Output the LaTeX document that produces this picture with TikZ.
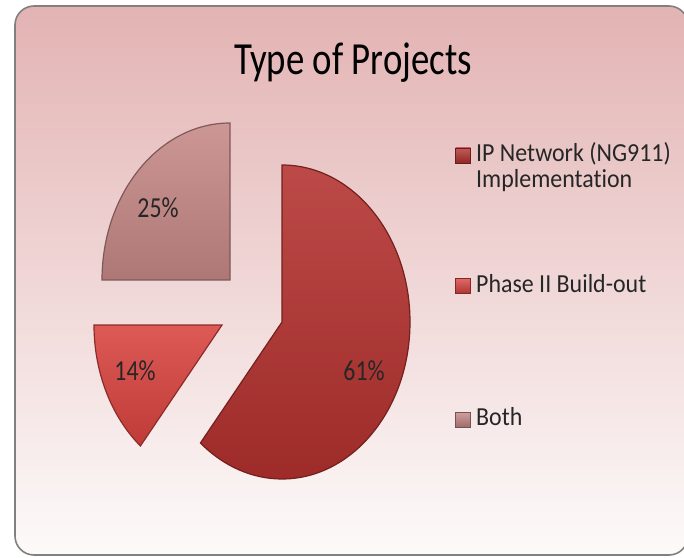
\documentclass[tikz,border=0pt]{standalone}
\usepackage{fontspec}
\setmainfont{Carlito}[Ligatures=NoCommon]
\definecolor{bgtop}{HTML}{E3B3B3}
\definecolor{bgmid}{HTML}{F1D8D8}
\definecolor{bgbot}{HTML}{FDFAFA}
\definecolor{ipred}{HTML}{B3312E}
\definecolor{phred}{HTML}{D8433F}
\definecolor{bothpink}{HTML}{C58886}
\tikzset{
    slice/.style={draw=#1!65!black, line width=1.2, top color=#1!88!white, bottom color=#1!88!black},
    pct/.style={font=\fontsize{29}{32}\selectfont, xscale=0.82, text=black!85},
    ttl/.style={font=\fontsize{46}{50}\selectfont, xscale=0.8, anchor=base, inner sep=0pt},
    leg/.style={font=\fontsize{26}{26}\selectfont, xscale=0.92, anchor=base west, align=left, inner sep=0pt, text=black!85},
    swatch/.style={minimum size=15, inner sep=0pt, draw=#1!60!black, top color=#1!80!white, bottom color=#1!80!black}
}

\begin{document}
\begin{tikzpicture}[x=1pt, y=1pt]
    \useasboundingbox (0,0) rectangle (684,557);
    \shade[rounded corners=19pt, top color=bgtop, middle color=bgmid, bottom color=bgbot] (15,2) rectangle (688,551);
    \draw[rounded corners=19pt, line width=1.6, gray] (15,2) rectangle (688,551);

    \node[ttl] (title) at (353,482) {Type of Projects};

    % exploded slices
    \draw[slice=ipred] (282,235) -- ++(0,157) arc[start angle=90, end angle=-129.6, x radius=128, y radius=157] -- cycle;
    \draw[slice=phred] (222,232) -- ++(-128,0) arc[start angle=180, end angle=230.4, x radius=128, y radius=157] -- cycle;
    \draw[slice=bothpink] (230,277) -- ++(0,157) arc[start angle=90, end angle=180, x radius=128, y radius=157] -- cycle;

    \node[pct] (ip) at (364,186) {61\%};
    \node[pct] (phase) at (135,186) {14\%};
    \node[pct] (both) at (158,349) {25\%};

    % legend
    \node[swatch=ipred] (kip) at (463,401.5) {};
    \node[leg] (lip) at (476,369) {IP Network (NG911)\\Implementation};
    \node[swatch=phred] (kphase) at (463,271) {};
    \node[leg] (lphase) at (476,264) {Phase II Build-out};
    \node[swatch=bothpink] (kboth) at (463,137.5) {};
    \node[leg] (lboth) at (476,132) {Both};
\end{tikzpicture}
\end{document}
